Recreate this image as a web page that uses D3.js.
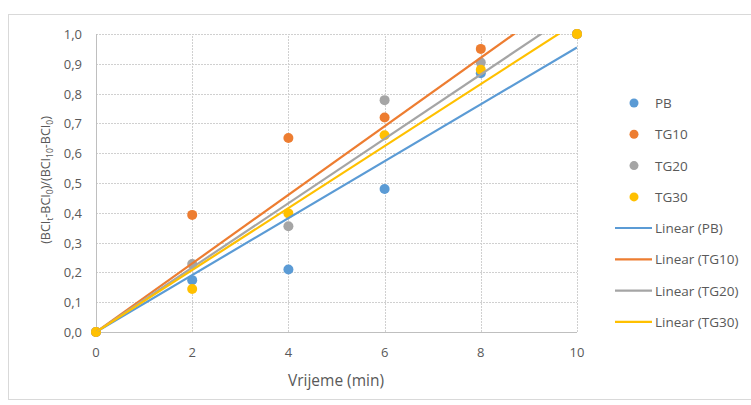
<!DOCTYPE html>
<html><head><meta charset="utf-8">
<script src="https://cdn.jsdelivr.net/npm/d3@7"></script>
<style>body{margin:0;background:#fff;} text{font-family:"Open Sans","Noto Sans",sans-serif;}</style>
</head><body>
<svg id="c" width="751" height="405"></svg>
<script>
const xValues = [0, 2, 4, 6, 8, 10];
const seriesNames = ["PB", "TG10", "TG20", "TG30"];
const pbValues   = [0, 0.174, 0.21, 0.48, 0.868, 1.0];
const tg10Values = [0, 0.393, 0.651, 0.72, 0.95, 1.0];
const tg20Values = [0, 0.228, 0.355, 0.778, 0.904, 1.0];
const tg30Values = [0, 0.144, 0.398, 0.66, 0.88, 1.0];
const colors = ["#5B9BD5", "#ED7D31", "#A5A5A5", "#FFC000"];
const xTicks = [0, 2, 4, 6, 8, 10];
const yTicks = [0, 0.1, 0.2, 0.3, 0.4, 0.5, 0.6, 0.7, 0.8, 0.9, 1.0];

const series = [pbValues, tg10Values, tg20Values, tg30Values].map((v, i) => ({
  name: seriesNames[i], color: colors[i], values: v
}));

const svg = d3.select("#c");
svg.append("rect").attr("x", 8.5).attr("y", 14.5).attr("width", 760).attr("height", 385)
  .attr("fill", "none").attr("stroke", "#d9d9d9");

const x = d3.scaleLinear().domain([0, 10]).range([96, 577]);
const y = d3.scaleLinear().domain([0, 1]).range([332, 34]);

const g = svg.append("g");
g.selectAll(".hg").data(yTicks.slice(1)).enter().append("line")
  .attr("x1", x(0)).attr("x2", x(10)).attr("y1", d => Math.round(y(d)) + 0.5).attr("y2", d => Math.round(y(d)) + 0.5)
  .attr("stroke", "#d0d0d0").attr("stroke-dasharray", "2,1");
g.selectAll(".vg").data(xTicks.slice(1)).enter().append("line")
  .attr("y1", y(0)).attr("y2", y(1)).attr("x1", d => Math.round(x(d)) + 0.5).attr("x2", d => Math.round(x(d)) + 0.5)
  .attr("stroke", "#d0d0d0").attr("stroke-dasharray", "2,1");
g.append("line").attr("x1", x(0)).attr("x2", x(10)).attr("y1", Math.round(y(0)) + 0.5).attr("y2", Math.round(y(0)) + 0.5).attr("stroke", "#bfbfbf");
g.append("line").attr("x1", Math.round(x(0)) + 0.5).attr("x2", Math.round(x(0)) + 0.5).attr("y1", y(0)).attr("y2", y(1)).attr("stroke", "#bfbfbf");

g.selectAll(".yt").data(yTicks).enter().append("text")
  .attr("x", 82).attr("y", d => y(d) + 5).attr("text-anchor", "end")
  .attr("font-size", 13).attr("fill", "#595959")
  .text(d => d3.format(".1f")(d).replace(".", ","));
g.selectAll(".xt").data(xTicks).enter().append("text")
  .attr("x", d => x(d)).attr("y", 357).attr("text-anchor", "middle")
  .attr("font-size", 13).attr("fill", "#595959").text(d => d);

svg.append("text").attr("x", 336).attr("y", 386).attr("text-anchor", "middle")
  .attr("font-size", 15.5).attr("fill", "#595959").text("Vrijeme (min)");
const yt = svg.append("text").attr("transform", "translate(50,180) rotate(-90)")
  .attr("text-anchor", "middle").attr("font-size", 12.5).attr("fill", "#595959");
const parts = [["(BCI", 0], ["t", 1], ["-BCI", 0], ["0", 1], [")/(BCI", 0], ["10", 1], ["-BCI", 0], ["0", 1], [")", 0]];
let prev = 0;
parts.forEach(([t, s]) => {
  const ts = yt.append("tspan").text(t).attr("dy", (s - prev) * 3);
  if (s) ts.attr("font-size", 8.5);
  prev = s;
});

series.forEach(s => {
  g.selectAll(null).data(s.values.map((v, i) => [xValues[i], v])).enter().append("circle")
    .attr("cx", d => x(d[0])).attr("cy", d => y(d[1])).attr("r", 5).attr("fill", s.color);
});

svg.append("clipPath").attr("id", "pc").append("rect")
  .attr("x", x(0)).attr("y", y(1)).attr("width", x(10) - x(0)).attr("height", y(0) - y(1));
series.forEach(s => {
  const sxy = d3.sum(s.values, (v, i) => v * xValues[i]);
  const sxx = d3.sum(xValues, v => v * v);
  const m = sxy / sxx;
  g.append("line").attr("clip-path", "url(#pc)")
    .attr("x1", x(0)).attr("y1", y(0)).attr("x2", x(10)).attr("y2", y(m * 10))
    .attr("stroke", s.color).attr("stroke-width", 2.2);
});

const lg = svg.append("g");
series.forEach((s, i) => {
  const yy = 103 + i * 31.3;
  lg.append("circle").attr("cx", 634).attr("cy", yy).attr("r", 4.5).attr("fill", s.color);
  lg.append("text").attr("x", 655).attr("y", yy + 5).attr("font-size", 13.5).attr("fill", "#595959").text(s.name);
});
series.forEach((s, i) => {
  const yy = 228 + i * 31.3;
  lg.append("line").attr("x1", 615).attr("x2", 652).attr("y1", yy).attr("y2", yy).attr("stroke", s.color).attr("stroke-width", 2.2);
  lg.append("text").attr("x", 655).attr("y", yy + 5).attr("font-size", 13.5).attr("fill", "#595959").text("Linear (" + s.name + ")");
});
</script>
</body></html>
